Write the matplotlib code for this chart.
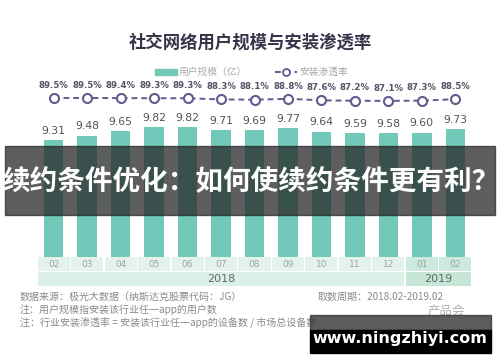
import matplotlib
matplotlib.use("Agg")
import matplotlib.pyplot as plt
from matplotlib.patches import Rectangle
from matplotlib.lines import Line2D

plt.rcParams['font.family'] = ['Noto Sans CJK SC', 'DejaVu Sans']

months = ["02", "03", "04", "05", "06", "07", "08", "09", "10", "11", "12", "01", "02"]
years = ["2018"] * 11 + ["2019"] * 2
users = [9.31, 9.48, 9.65, 9.82, 9.82, 9.71, 9.69, 9.77, 9.64, 9.59, 9.58, 9.60, 9.73]
rate = [89.5, 89.5, 89.4, 89.3, 89.3, 88.3, 88.1, 88.8, 87.6, 87.2, 87.1, 87.3, 88.5]
title = "社交网络用户规模与安装渗透率"
banner = "续约条件优化：如何使续约条件更有利？"
legend_bar = "用户规模（亿）"
legend_line = "安装渗透率"
notes = ["数据来源：极光大数据（纳斯达克股票代码：JG）",
         "注：用户规模指安装该行业任一app的用户数",
         "注：行业安装渗透率 = 安装该行业任一app的设备数 / 市场总设备数"]
period = "取数周期：2018.02-2019.02"
watermark = "www.ningzhiyi.com"

W, H = 500, 362
fig = plt.figure(figsize=(5, 3.62), dpi=100)
fig.patch.set_facecolor("white")

def fy(px):  # pixel from top -> fig fraction
    return 1 - px / H

BAR = "#72c9b9"
LINE = "#5f5d90"

left, right = 37, 472
ax = fig.add_axes([left / W, fy(257), (right - left) / W, (257 - 60) / H])
ax.set_xlim(-0.5, len(months) - 0.5)
ax.set_ylim(4.72, 4.72 + 197 / 25.5)
ax.axis("off")
x = list(range(len(months)))
ax.bar(x, users, width=0.58, color=BAR, zorder=2)
for xi, v in zip(x, users):
    ax.annotate(f"{v:.2f}", (xi, v), xytext=(0, 3), textcoords="offset points",
                ha="center", va="bottom", fontsize=7.8, color="#555555",
                family="DejaVu Sans")

ax2 = ax.twinx()
ax2.set_ylim(89.5 - 159 / 1.2, 89.5 - 159 / 1.2 + 197 / 1.2)
ax2.axis("off")
ax2.plot(x, rate, color=LINE, lw=1.4, ls=(0, (3, 2)), marker="o", ms=6.5,
         mfc="white", mec=LINE, mew=1.5, zorder=3)
for xi, v in zip(x, rate):
    ax2.annotate(f"{v:.1f}%", (xi, v), xytext=(0, 6), textcoords="offset points",
                 ha="center", va="bottom", fontsize=6.2, color="#55556a",
                 fontweight="bold", family="DejaVu Sans")

# month / year table
tb = fig.add_axes([left / W, fy(286), (right - left) / W, (286 - 257) / H])
tb.set_xlim(-0.5, len(months) - 0.5)
tb.set_ylim(0, 2)
tb.axis("off")
for xi, m, yv in zip(x, months, years):
    c = "#cbe9dc" if yv == "2019" else "#e3f3ec"
    tb.add_patch(Rectangle((xi - 0.5 + 0.02, 1.02), 0.96, 0.98, color=c, lw=0))
    tb.text(xi, 1.5, m, ha="center", va="center", fontsize=6.5, color="#9aa5a0",
            family="DejaVu Sans")
ystart = 0
for i in range(1, len(years) + 1):
    if i == len(years) or years[i] != years[ystart]:
        c = "#c6e7d8" if years[ystart] == "2019" else "#dbf0e6"
        tb.add_patch(Rectangle((ystart - 0.5 + 0.02, 0), i - ystart - 0.04, 0.98, color=c, lw=0))
        tb.text((ystart + i - 1) / 2, 0.48, years[ystart], ha="center", va="center",
                fontsize=8, color="#666666", family="DejaVu Sans")
        ystart = i

# title & legend
fig.text(0.5, fy(43), title, ha="center", va="center", fontsize=12.5,
         fontweight="bold", color="#35354a")
fig.patches.append(Rectangle((155 / W, fy(75)), 22 / W, 6 / H, color=BAR,
                             transform=fig.transFigure, figure=fig))
fig.text(179 / W, fy(72), legend_bar, ha="left", va="center", fontsize=7, color="#aaaaaa")
fig.lines.append(Line2D([275 / W, 297 / W], [fy(72), fy(72)], color=LINE, lw=1.4,
                        ls=(0, (3, 2)), transform=fig.transFigure, figure=fig))
fig.lines.append(Line2D([286 / W], [fy(72)], color=LINE, marker="o", ms=5, mfc="white",
                        mec=LINE, mew=1.3, transform=fig.transFigure, figure=fig))
fig.text(299 / W, fy(72), legend_line, ha="left", va="center", fontsize=7, color="#aaaaaa")

# notes
fig.text(20 / W, fy(297), notes[0], ha="left", va="center", fontsize=7.2,
         color="#8a8a8a", style="italic")
fig.text(318 / W, fy(297), period, ha="left", va="center", fontsize=7.2,
         color="#8a8a8a", style="italic")
fig.text(20 / W, fy(310), notes[1], ha="left", va="center", fontsize=7.2,
         color="#8a8a8a", style="italic")
fig.text(20 / W, fy(323), notes[2], ha="left", va="center", fontsize=7.2,
         color="#8a8a8a", style="italic")
fig.text(465 / W, fy(311), "产品会", ha="right", va="center", fontsize=9, color="#b0b0b0")

# banner overlay
fig.patches.append(Rectangle((5 / W, fy(215)), 490 / W, 69 / H, color="#262626", alpha=0.74,
                             transform=fig.transFigure, figure=fig, zorder=5))
fig.text(0.502, fy(182), banner, ha="center", va="center", fontsize=19.9,
         fontweight="bold", color="white", zorder=6)

# watermark box
fig.patches.append(Rectangle((310 / W, fy(330)), 181 / W, 15 / H, color="#333333", alpha=0.8,
                             transform=fig.transFigure, figure=fig, zorder=5))
fig.patches.append(Rectangle((310 / W, fy(353)), 181 / W, 23 / H, color="black",
                             transform=fig.transFigure, figure=fig, zorder=5))
fig.text(400 / W, fy(339), watermark, ha="center", va="center", fontsize=11.5,
         fontweight="bold", color="white", family="DejaVu Sans", zorder=6)

fig.savefig("out.png", dpi=100)
